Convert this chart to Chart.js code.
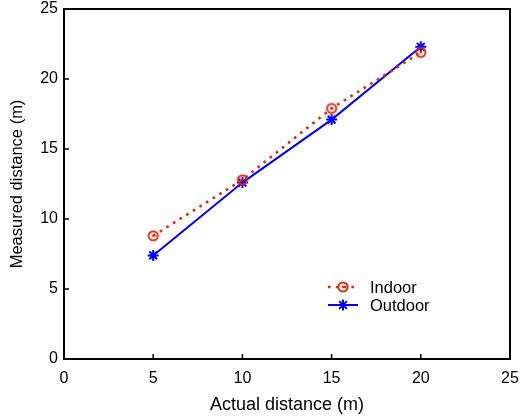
<!DOCTYPE html>
<html>
<head>
<meta charset="utf-8">
<script src="https://cdn.jsdelivr.net/npm/chart.js@4/dist/chart.umd.min.js"></script>
<style>
  html, body { margin: 0; padding: 0; background: #fff; }
  #wrap { width: 523px; height: 418px; position: relative; }
</style>
</head>
<body>
<div id="wrap"><canvas id="c"></canvas></div>
<script>
// ── data ─────────────────────────────────
const distances = [5, 10, 15, 20];
const indoor    = [8.8, 12.8, 17.9, 21.9];
const outdoor   = [7.4, 12.6, 17.1, 22.3];
const xTicks    = [0, 5, 10, 15, 20, 25];
const yTicks    = [0, 5, 10, 15, 20, 25];

const RED  = '#dd2c10';
const BLUE = '#0000ff';
const FONT = 'Liberation Sans, Arial, Helvetica, sans-serif';

// circle marker with a centre dot
function circleDot() {
    const cv = document.createElement('canvas');
    cv.width = 14; cv.height = 14;
    const g = cv.getContext('2d');
    g.strokeStyle = RED; g.lineWidth = 2;
    g.beginPath(); g.arc(7, 7, 4.6, 0, Math.PI * 2); g.stroke();
    g.fillStyle = RED;
    g.beginPath(); g.arc(7, 7, 1.2, 0, Math.PI * 2); g.fill();
    return cv;
}
const indoorMark = circleDot();

// ── box + inward ticks + legend ─────────
const frame = {
    id: 'frame',
    afterDraw(chart) {
        const { ctx, chartArea: a, scales } = chart;
        ctx.save();
        ctx.strokeStyle = '#000';
        ctx.lineWidth = 2;
        ctx.strokeRect(a.left, a.top, a.right - a.left, a.bottom - a.top);
        ctx.lineWidth = 1.5;
        ctx.beginPath();
        xTicks.slice(1, -1).forEach(v => {
            const x = scales.x.getPixelForValue(v);
            ctx.moveTo(x, a.bottom); ctx.lineTo(x, a.bottom - 5);
        });
        yTicks.slice(1, -1).forEach(v => {
            const y = scales.y.getPixelForValue(v);
            ctx.moveTo(a.left, y); ctx.lineTo(a.left + 5, y);
        });
        ctx.stroke();

        // legend
        const items = [
            { ds: chart.data.datasets[0], y: 287 },
            { ds: chart.data.datasets[1], y: 305 },
        ];
        ctx.font = '16.5px ' + FONT;
        ctx.textBaseline = 'middle';
        ctx.fillStyle = '#000';
        items.forEach(it => {
            const ds = it.ds;
            ctx.strokeStyle = ds.borderColor;
            ctx.lineWidth = ds.borderWidth;
            ctx.setLineDash(ds.borderDash || []);
            ctx.beginPath();
            ctx.moveTo(328, it.y); ctx.lineTo(358, it.y);
            ctx.stroke();
            ctx.setLineDash([]);
            Chart.helpers.drawPoint(ctx, {
                pointStyle: ds.pointStyle,
                radius: ds.pointRadius,
                borderWidth: ds.pointBorderWidth,
                rotation: 0,
            }, 343, it.y);
            ctx.fillText(ds.label, 370, it.y + 1);
        });
        ctx.restore();
    }
};

new Chart(document.getElementById('c'), {
    type: 'line',
    data: {
        datasets: [
            {
                label: 'Indoor',
                data: distances.map((d, i) => ({ x: d, y: indoor[i] })),
                borderColor: RED,
                borderWidth: 2.6,
                borderDash: [2.6, 5.2],
                borderCapStyle: 'butt',
                pointStyle: indoorMark,
                pointRadius: 6,
                pointBorderWidth: 2,
                pointBorderColor: RED,
                pointBackgroundColor: 'rgba(0,0,0,0)',
                fill: false,
            },
            {
                label: 'Outdoor',
                data: distances.map((d, i) => ({ x: d, y: outdoor[i] })),
                borderColor: BLUE,
                borderWidth: 2,
                pointStyle: 'star',
                pointRadius: 5.5,
                pointBorderWidth: 2,
                pointBorderColor: BLUE,
                pointBackgroundColor: BLUE,
                fill: false,
            },
        ]
    },
    options: {
        responsive: true,
        maintainAspectRatio: false,
        animation: false,
        devicePixelRatio: 1,
        layout: { padding: { top: 9, right: 13, left: 0, bottom: 0 } },
        plugins: {
            legend: { display: false },
            tooltip: { enabled: false },
        },
        scales: {
            x: {
                type: 'linear',
                min: 0, max: 25,
                afterBuildTicks: s => { s.ticks = xTicks.map(v => ({ value: v })); },
                afterFit: s => { s.height = 59; s.paddingLeft = 0; s.paddingRight = 0; },
                grid: { display: false, drawTicks: false },
                border: { display: false },
                ticks: { color: '#000', font: { family: FONT, size: 16 }, padding: 10, maxRotation: 0 },
                title: {
                    display: true, text: 'Actual distance (m)', color: '#000',
                    font: { family: FONT, size: 18 }, padding: { top: 0, bottom: 2 },
                },
            },
            y: {
                type: 'linear',
                min: 0, max: 25,
                afterBuildTicks: s => { s.ticks = yTicks.map(v => ({ value: v })); },
                afterFit: s => { s.width = 64; s.paddingTop = 0; s.paddingBottom = 0; },
                grid: { display: false, drawTicks: false },
                border: { display: false },
                ticks: { color: '#000', font: { family: FONT, size: 16 }, padding: 6 },
                title: {
                    display: true, text: 'Measured distance (m)', color: '#000',
                    font: { family: FONT, size: 16.5 }, padding: { top: 8, bottom: 0 },
                },
            },
        },
    },
    plugins: [frame],
});
</script>
</body>
</html>
